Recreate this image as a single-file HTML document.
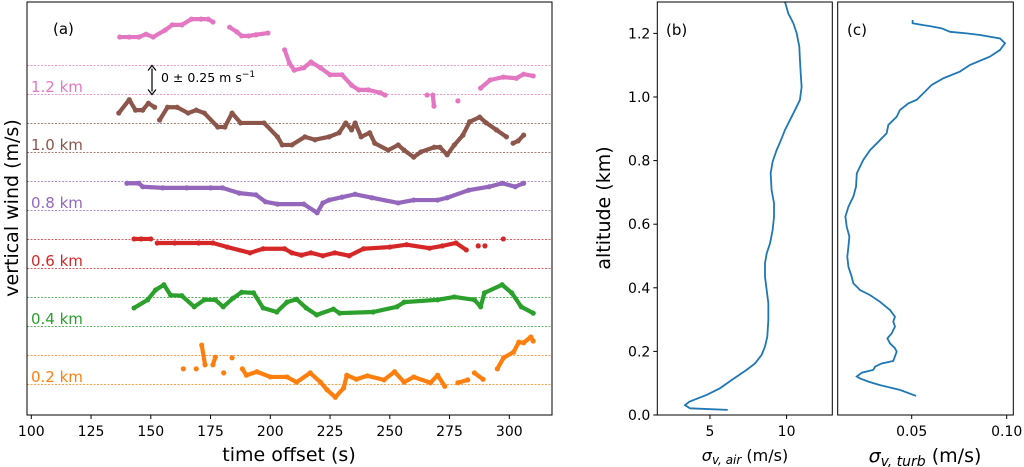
<!DOCTYPE html>
<html><head><meta charset="utf-8"><style>
body{margin:0;background:#fff;}
svg{display:block;font-family:"DejaVu Sans","Liberation Sans",sans-serif;}
</style></head><body>
<svg id="fig" width="1024" height="467" viewBox="0 0 1024 467" xmlns="http://www.w3.org/2000/svg">
<rect width="1024" height="467" fill="#fff"/>
<g id="pa"></g>
<g id="pb"></g>
<g id="pc"></g>
</svg>
<script>
const levelNames = ["0.2 km","0.4 km","0.6 km","0.8 km","1.0 km","1.2 km"];
const levelColors = ["#ff7f0e","#2ca02c","#d62728","#9467bd","#8c564b","#e377c2"];
const xTicksA = [100,125,150,175,200,225,250,275,300];
const tOrange = [163.6,NaN,169,NaN,171.3,172.7,NaN,176,177,NaN,180.5,NaN,184,NaN,188.3,190,194.4,200,207,211,216.7,221,223.7,227.2,230.7,232,236,240.6,247.6,252,256,260,267,270,273,NaN,278.5,282.6,NaN,285.4,289,NaN,295,297.6,301.8,304,306,309,310];
const wOrange = [0.02,NaN,0.02,NaN,0.43,0.09,NaN,0.09,0.22,NaN,-0.05,NaN,0.21,NaN,0.02,-0.09,-0.03,-0.12,-0.12,-0.21,-0.05,-0.21,-0.34,-0.47,-0.31,-0.09,-0.16,-0.10,-0.17,-0.03,-0.21,-0.12,-0.22,-0.09,-0.28,NaN,-0.22,-0.17,NaN,-0.05,-0.16,NaN,0.02,0.21,0.31,0.48,0.47,0.57,0.50];
const tGreen = [143,148.7,152,155.5,158.3,163,168.2,172.4,177,180.3,184.5,188,193,197,202.7,207,211,215,219.4,226.4,229,243,253,256,270,277,285.4,288,289.6,297,301,305,310];
const wGreen = [0.07,0.21,0.38,0.47,0.29,0.28,0.09,0.21,0.21,0.09,0.24,0.34,0.33,0.07,0,0.17,0.22,0.07,-0.05,0.05,-0.02,0,0.09,0.17,0.21,0.26,0.21,0.09,0.33,0.47,0.33,0.09,-0.02];
const tRed = [143,146,150,NaN,152.7,160,170,176,182,191.5,197,206,209,213,217,222,227,233,239,250,257,266.6,272,277.7,282,NaN,287,NaN,289.8,NaN,297.5];
const wRed = [0.26,0.26,0.26,NaN,0.19,0.19,0.19,0.19,0.12,0.02,0.09,0.09,0.02,-0.02,0.02,-0.03,0.02,-0.03,0.09,0.12,0.16,0.10,0.14,0.19,0.07,NaN,0.14,NaN,0.14,NaN,0.26];
const tPurple = [140,145,146.6,155,165,175,180,187,194,198,203,214,219.6,222,224.6,230,235.5,242.5,253.5,260,270,274,283,291.6,297,302.5,306];
const wPurple = [0.22,0.22,0.16,0.14,0.14,0.14,0.14,0.05,0.02,-0.10,-0.14,-0.14,-0.29,-0.12,-0.07,-0.02,0.03,-0.03,-0.12,-0.07,-0.07,-0.03,0.10,0.16,0.22,0.16,0.22];
const tBrown = [136.6,141,143.6,146.6,149,151.6,NaN,153.7,157,161,165.6,169,172.4,178,181,184,187.6,197.4,203,205,209,214.5,218.7,224.6,228.8,231.6,234,235.5,238,241.6,243.7,249.3,253.5,256,260,263,268.6,271,274,277,280.6,283.4,287.6,290.4,294.6,298.8,NaN,301.6,303.7,306];
const wBrown = [0.43,0.66,0.48,0.48,0.60,0.53,NaN,0.31,0.53,0.53,0.43,0.48,0.43,0.19,0.19,0.43,0.26,0.26,0.02,-0.12,-0.12,0.02,-0.03,0.02,0.09,0.26,0.14,0.26,0.02,0.09,-0.09,-0.21,-0.12,-0.21,-0.33,-0.24,-0.16,-0.16,-0.29,-0.12,0.05,0.28,0.36,0.26,0.14,0.02,NaN,-0.09,-0.05,0.05];
const tPink = [137,141,145,148,151,156,159,163,167,171,174,176,NaN,183,186,188,191,194,199,NaN,206,208,210,214,217,221,225,230,234,237,241,246,248,NaN,265.6,NaN,268,268.5,NaN,278.5,NaN,288,292,297.5,303,306,310];
const wPink = [0.74,0.74,0.74,0.79,0.74,0.86,0.95,0.95,1.05,1.05,1.05,1.0,NaN,0.91,0.83,0.76,0.76,0.78,0.81,NaN,0.52,0.29,0.17,0.21,0.31,0.21,0.09,0.09,-0.09,-0.17,-0.17,-0.22,-0.26,NaN,-0.26,NaN,-0.26,-0.45,NaN,-0.36,NaN,-0.14,0,0.05,0.03,0.10,0.07];
const seriesT = [tOrange,tGreen,tRed,tPurple,tBrown,tPink];
const seriesW = [wOrange,wGreen,wRed,wPurple,wBrown,wPink];
const altTicks = [0.0,0.2,0.4,0.6,0.8,1.0,1.2];
const xTicksB = [5,10];
const xTicksC = [0.05,0.10];
const sigAir = [6.16,3.70,3.37,3.66,4.78,5.65,6.42,7.39,7.94,8.37,8.59,8.74,8.81,8.81,8.70,8.59,8.59,8.70,8.92,9.09,9.18,9.18,9.02,8.96,9.09,9.35,9.68,9.89,10.33,10.66,10.87,10.98,10.92,10.87,10.83,10.66,10.44,10.11,9.89];
const altAir = [0.016,0.021,0.031,0.042,0.063,0.084,0.110,0.142,0.162,0.189,0.215,0.246,0.299,0.351,0.393,0.435,0.477,0.508,0.540,0.582,0.624,0.666,0.708,0.760,0.797,0.833,0.870,0.896,0.938,0.970,0.991,1.032,1.074,1.116,1.158,1.200,1.232,1.263,1.300];
const sigTurb = [0.0523,0.0438,0.0333,0.0272,0.0228,0.0211,0.0237,0.0298,0.0307,0.0342,0.0403,0.0421,0.0412,0.0386,0.0372,0.0395,0.0412,0.0403,0.0412,0.0386,0.0333,0.0281,0.0228,0.0193,0.0184,0.0167,0.0161,0.0167,0.0172,0.0158,0.0151,0.0167,0.0193,0.0207,0.0211,0.0245,0.0281,0.0316,0.0368,0.0377,0.0421,0.0438,0.0482,0.0526,0.0570,0.0605,0.0667,0.0754,0.0807,0.0912,0.0965,0.0991,0.0965,0.0860,0.0789,0.0702,0.0658,0.0596,0.0561,0.0505,0.0505];
const altTurb = [0.060,0.079,0.094,0.105,0.115,0.121,0.133,0.142,0.152,0.162,0.170,0.199,0.210,0.225,0.241,0.257,0.278,0.294,0.309,0.330,0.356,0.377,0.393,0.414,0.435,0.466,0.498,0.529,0.561,0.592,0.624,0.655,0.687,0.718,0.760,0.802,0.833,0.854,0.886,0.912,0.938,0.959,0.980,0.991,1.017,1.038,1.059,1.080,1.101,1.127,1.148,1.169,1.184,1.195,1.200,1.205,1.216,1.223,1.226,1.232,1.242];

const NS="http://www.w3.org/2000/svg";
function mk(parent,tag,attrs,text){const e=document.createElementNS(NS,tag);for(const k in attrs)e.setAttribute(k,attrs[k]);if(text!==undefined)e.textContent=text;parent.appendChild(e);return e;}

// Panel A
const A={l:27,r:552,t:2,b:415};
const xA=t=>31.3+(t-100)*2.39;
const yA=v=>428-58*v;
const pa=document.getElementById('pa');
for(let i=0;i<6;i++){
  const lev=i+1;
  [lev-0.25,lev+0.25].forEach(v=>{
    const ln=mk(pa,'line',{x1:A.l,x2:A.r,y1:yA(v),y2:yA(v),stroke:levelColors[i],'stroke-width':0.7,'stroke-dasharray':'2,1.5'});
    
    
  });
  const lb=mk(pa,'text',{x:31,y:yA(lev)+12,'font-size':15,fill:levelColors[i]},levelNames[i]);
  
  
  const T=seriesT[i],W=seriesW[i];
  const g=mk(pa,'g',{});
  
  
  let seg=[];const segs=[];
  for(let k=0;k<T.length;k++){
    if(isNaN(T[k])||isNaN(W[k])){if(seg.length)segs.push(seg);seg=[];continue;}
    seg.push([xA(T[k]),yA(lev+W[k])]);
  }
  if(seg.length)segs.push(seg);
  segs.forEach(s=>{
    if(s.length>1){
      const p=mk(g,'polyline',{points:s.map(q=>q.join(',')).join(' '),fill:'none',stroke:levelColors[i],'stroke-width':4.2,'stroke-linejoin':'round','stroke-linecap':'round'});
      
      
    }
    s.forEach(q=>{
      const c=mk(g,'circle',{cx:q[0],cy:q[1],r:2.6,fill:levelColors[i]});
      
      
    });
  });
}
mk(pa,'rect',{x:A.l,y:A.t,width:A.r-A.l,height:A.b-A.t,fill:'none',stroke:'#000','stroke-width':1,});
xTicksA.forEach(t=>{
  mk(pa,'line',{x1:xA(t),x2:xA(t),y1:A.b,y2:A.b+4,stroke:'#000'});
  const tl=mk(pa,'text',{x:xA(t),y:A.b+21,'font-size':14,'text-anchor':'middle'},t);
  
  
});
mk(pa,'text',{x:289,y:461,'font-size':19,'text-anchor':'middle',},'time offset (s)');
mk(pa,'text',{x:0,y:0,'font-size':19,'text-anchor':'middle',transform:'translate(18,208) rotate(-90)',},'vertical wind (m/s)');
mk(pa,'text',{x:53,y:34,'font-size':15,},'(a)');
mk(pa,'line',{x1:152,x2:152,y1:yA(6.25)+3,y2:yA(5.75)-3,stroke:'#000','stroke-width':1.2,});
mk(pa,'path',{d:`M148,${yA(6.25)+5} L152,${yA(6.25)} L156,${yA(6.25)+5} M148,${yA(5.75)-5} L152,${yA(5.75)} L156,${yA(5.75)-5}`,fill:'none',stroke:'#000','stroke-width':1.2});
const ann=mk(pa,'text',{x:161,y:82,'font-size':12.5,},'0 ± 0.25 m s');
mk(ann,'tspan',{dy:-5,'font-size':9},'−1');

// Panel B
const B={l:657.3,r:832.3,t:2,b:415};
const yAlt=a=>415-a*318;
const xB=v=>633.3+v*15.33;
const pb=document.getElementById('pb');
mk(pb,'polyline',{points:sigAir.map((v,k)=>xB(v)+','+yAlt(altAir[k])).join(' '),fill:'none',stroke:'#1f77b4','stroke-width':1.8,});
mk(pb,'rect',{x:B.l,y:B.t,width:B.r-B.l,height:B.b-B.t,fill:'none',stroke:'#000',});
altTicks.forEach(a=>{
  mk(pb,'line',{x1:B.l-4,x2:B.l,y1:yAlt(a),y2:yAlt(a),stroke:'#000'});
  const tl=mk(pb,'text',{x:B.l-7,y:yAlt(a)+5,'font-size':14,'text-anchor':'end'},a.toFixed(1));
  
  
});
xTicksB.forEach(v=>{
  mk(pb,'line',{x1:xB(v),x2:xB(v),y1:B.b,y2:B.b+4,stroke:'#000'});
  const tl=mk(pb,'text',{x:xB(v),y:B.b+21,'font-size':14,'text-anchor':'middle'},v);
  
  
});
mk(pb,'text',{x:0,y:0,'font-size':19,'text-anchor':'middle',transform:'translate(610,208) rotate(-90)',},'altitude (km)');
mk(pb,'text',{x:666,y:35,'font-size':15,},'(b)');
const tb=mk(pb,'text',{x:745,y:461,'font-size':16,'text-anchor':'middle',});
mk(tb,'tspan',{'font-style':'italic'},'σ');
mk(tb,'tspan',{'font-size':12,'font-style':'italic',dy:3},'v, air');
mk(tb,'tspan',{dy:-3},' (m/s)');

// Panel C
const C={l:837.7,r:1013.3,t:2,b:415};
const xC=v=>816.7+v*1900;
const pc=document.getElementById('pc');
mk(pc,'polyline',{points:sigTurb.map((v,k)=>xC(v)+','+yAlt(altTurb[k])).join(' '),fill:'none',stroke:'#1f77b4','stroke-width':1.8,});
mk(pc,'rect',{x:C.l,y:C.t,width:C.r-C.l,height:C.b-C.t,fill:'none',stroke:'#000',});
xTicksC.forEach(v=>{
  mk(pc,'line',{x1:xC(v),x2:xC(v),y1:C.b,y2:C.b+4,stroke:'#000'});
  const tl=mk(pc,'text',{x:xC(v),y:C.b+21,'font-size':14,'text-anchor':'middle'},v.toFixed(2));
  
  
});
mk(pc,'text',{x:847,y:35,'font-size':15,},'(c)');
const tc=mk(pc,'text',{x:925,y:462,'font-size':19,'text-anchor':'middle',});
mk(tc,'tspan',{'font-style':'italic'},'σ');
mk(tc,'tspan',{'font-size':14,'font-style':'italic',dy:4},'v, turb');
mk(tc,'tspan',{dy:-4},' (m/s)');
</script>
</body></html>
